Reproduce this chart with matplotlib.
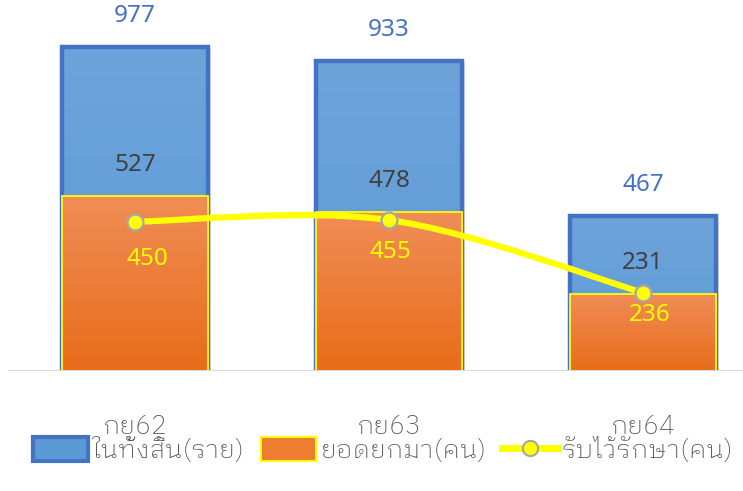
import numpy as np
import matplotlib
matplotlib.use("Agg")
import matplotlib.pyplot as plt
from matplotlib.path import Path
from matplotlib.patches import PathPatch, Patch
from matplotlib.lines import Line2D
from matplotlib.colors import LinearSegmentedColormap

plt.rcParams['font.family'] = ['IBM Plex Sans Thai Looped', 'Noto Sans Thai Looped', 'DejaVu Sans']
num_family = ['Noto Sans', 'DejaVu Sans']

# data
categories = ['กย62', 'กย63', 'กย64']
total = [977, 933, 467]          # ในทั้งสิ้น(ราย)
carried = [527, 478, 231]        # ยอดยกมา(คน)
admitted = [450, 455, 236]       # รับไว้รักษา(คน)
series_names = ['ในทั้งสิ้น(ราย)', 'ยอดยกมา(คน)', 'รับไว้รักษา(คน)']

# label nudges for the line labels (pixels: dx, dy)
line_label_off = [(12, -37), (1, -32), (7, -22)]

W, H = 743, 491
fig = plt.figure(figsize=(W / 100, H / 100), dpi=100)
ax = fig.add_axes([8 / W, (H - 371) / H, 762 / W, 371 / H])
for s in ax.spines.values():
    s.set_visible(False)
ax.set_yticks([])

x = np.arange(len(categories))
bw = 0.575

blue_cmap = LinearSegmentedColormap.from_list('b', ['#5a99d6', '#6fa4db'])
orange_cmap = LinearSegmentedColormap.from_list('o', ['#e86c19', '#f08d57'])
grad = np.linspace(0, 1, 256).reshape(-1, 1)


def fill_gradient(bars, cmap):
    for b in bars:
        x0, y0 = b.get_x(), b.get_y()
        im = ax.imshow(grad, cmap=cmap, origin='lower', aspect='auto',
                       extent=[x0, x0 + b.get_width(), y0, y0 + b.get_height()],
                       zorder=b.get_zorder() - 0.01)
        im.set_clip_path(b)


# soft shadow
ax.bar(x + 0.012, total, bw, bottom=-6, color='#000000', alpha=0.12, zorder=1)
blue = ax.bar(x, total, bw, facecolor='none', edgecolor='#4472c4', linewidth=3.2, zorder=2)
fill_gradient(blue, blue_cmap)
orange = ax.bar(x, carried, bw, facecolor='none', edgecolor='#ffff00', linewidth=1.3, zorder=3)
fill_gradient(orange, orange_cmap)

ax.set_xlim(-0.5, 2.5)
ax.set_ylim(0, 1118)

# baseline
ax.axhline(0, color='#d9d9d9', linewidth=2.2, zorder=4)

# smoothed line (Excel style bezier through the points)
pts = np.column_stack([x, admitted]).astype(float)
verts = [pts[0]]
codes = [Path.MOVETO]
n = len(pts)
for i in range(n - 1):
    p0 = pts[max(i - 1, 0)]
    p1 = pts[i]
    p2 = pts[i + 1]
    p3 = pts[min(i + 2, n - 1)]
    verts += [p1 + (p2 - p0) / 6, p2 - (p3 - p1) / 6, p2]
    codes += [Path.CURVE4] * 3
ax.add_patch(PathPatch(Path(verts, codes), facecolor='none', edgecolor='#ffff00',
                       linewidth=4.5, capstyle='round', zorder=5))
ax.plot(x, admitted, linestyle='none', marker='o', markersize=11.5,
        markerfacecolor='#ffff00', markeredgecolor='#a6a6a6', markeredgewidth=1.6, zorder=6)

# labels
num_fs = 17.5
for xi, t in zip(x, total):
    ax.annotate(str(t), (xi, t), xytext=(0, 31 * 0.72), textcoords='offset points',
                ha='center', va='center', fontsize=num_fs, color='#4472c4',
                family=num_family, fontweight='light', zorder=7)
for xi, c in zip(x, carried):
    ax.annotate(str(c), (xi, c), xytext=(0, 31 * 0.72), textcoords='offset points',
                ha='center', va='center', fontsize=num_fs, color='#404040',
                family=num_family, fontweight='light', zorder=7)
for xi, a, (dx, dy) in zip(x, admitted, line_label_off):
    ax.annotate(str(a), (xi, a), xytext=(dx * 0.72, dy * 0.72), textcoords='offset points',
                ha='center', va='center', fontsize=num_fs, color='#ffff00',
                family=num_family, fontweight='light', zorder=7)

# category labels
ax.set_xticks(x)
ax.set_xticklabels(categories, fontsize=19, color='#505050', fontweight='light')
ax.tick_params(axis='x', length=0, pad=31)

# legend
handles = [
    Patch(facecolor='#5b9bd5', edgecolor='#4472c4', linewidth=3),
    Patch(facecolor='#ed7d31', edgecolor='#ffff00', linewidth=1.5),
    Line2D([0], [0], color='#ffff00', linewidth=5, marker='o', markersize=11,
           markerfacecolor='#ffff00', markeredgecolor='#a6a6a6', markeredgewidth=1.5),
]
fig.legend(handles, series_names, loc='center', bbox_to_anchor=(383 / W, 1 - 450 / H),
           ncol=3, frameon=False, prop={'size': 19, 'weight': 'light'}, labelcolor='#505050',
           handlelength=2.1, handleheight=1.0, handletextpad=0.15, columnspacing=0.6)

fig.savefig('out.png', dpi=100)
